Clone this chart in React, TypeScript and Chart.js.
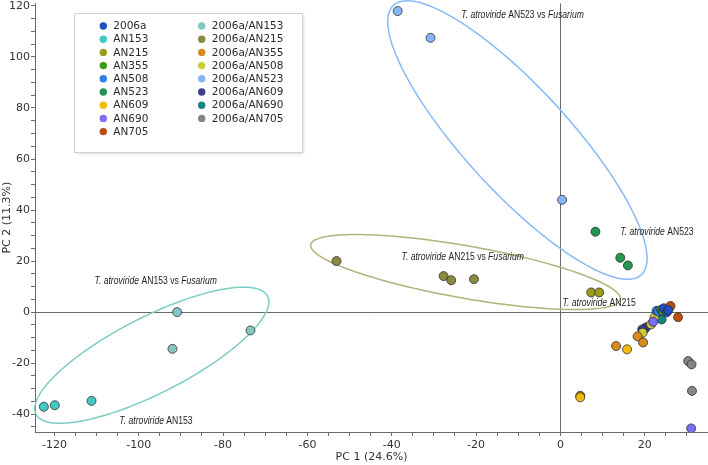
import React, { useEffect, useRef } from 'react';
import { Chart, registerables } from 'chart.js';
Chart.register(...registerables);

type P = [number, number];

const seriesLabels = [
  '2006a', 'AN153', 'AN215', 'AN355', 'AN508', 'AN523', 'AN609', 'AN690', 'AN705',
  '2006a/AN153', '2006a/AN215', '2006a/AN355', '2006a/AN508', '2006a/AN523',
  '2006a/AN609', '2006a/AN690', '2006a/AN705',
];
const seriesColors = [
  '#1f4fc0', '#44c8c4', '#9c9c1c', '#3c9c12', '#2e7ef2', '#239452', '#f0bc0c', '#7a6ef6', '#bf4e0e',
  '#86c6c2', '#8c8a42', '#d88a1e', '#cccc3c', '#86b6f6', '#3e3e8e', '#158484', '#858585',
];

const pts2006a: P[] = [[24.5, 1.5], [25.2, -0.1], [25.6, 0.8]];
const ptsAN153: P[] = [[-122.5, -37.1], [-119.9, -36.5], [-111.2, -34.8]];
const ptsAN215: P[] = [[7.3, 7.7], [9.2, 7.7]];
const ptsAN355: P[] = [[23.9, 0.9], [24.3, 0.3]];
const ptsAN508: P[] = [[22.8, 0.5], [23.2, 0.2]];
const ptsAN523: P[] = [[8.3, 31.5], [14.2, 21.3], [16.0, 18.3]];
const ptsAN609: P[] = [[15.8, -14.6], [4.7, -33.4]];
const ptsAN690: P[] = [[22.0, -3.8], [31.0, -45.6]];
const ptsAN705: P[] = [[26.1, 2.4], [27.9, -2.0]];
const pts2006aAN153: P[] = [[-90.9, 0], [-92.0, -14.4], [-73.5, -7.2]];
const pts2006aAN215: P[] = [[-53.1, 20], [-27.7, 14.1], [-25.9, 12.5], [-20.5, 12.9]];
const pts2006aAN355: P[] = [[13.2, -13.3], [18.3, -9.5], [19.6, -11.9], [4.7, -32.8]];
const pts2006aAN508: P[] = [[22.3, -2.1], [21.5, -4.8], [19.5, -8.1]];
const pts2006aAN523: P[] = [[-38.6, 118], [-30.8, 107.5], [0.4, 44]];
const pts2006aAN609: P[] = [[20.3, -6], [19.4, -6.8]];
const pts2006aAN690: P[] = [[24.0, -2.9], [19.9, -6.8]];
const pts2006aAN705: P[] = [[30.3, -19.2], [31.1, -20.5], [31.2, -30.9]];

const seriesPoints: P[][] = [
  pts2006a, ptsAN153, ptsAN215, ptsAN355, ptsAN508, ptsAN523, ptsAN609, ptsAN690, ptsAN705,
  pts2006aAN153, pts2006aAN215, pts2006aAN355, pts2006aAN508, pts2006aAN523,
  pts2006aAN609, pts2006aAN690, pts2006aAN705,
];

const X_MIN = -124.6;
const X_MAX = 35;
const Y_MIN = -47;
const Y_MAX = 121;
const xMajorTicks = [-120, -100, -80, -60, -40, -20, 0, 20];
const yMajorTicks = [-40, -20, 0, 20, 40, 60, 80, 100, 120];
const xMinorTicks = [-120, -115, -110, -105, -100, -95, -90, -85, -80, -75, -70, -65, -60, -55, -50, -45, -40, -35, -30, -25, -20, -15, -10, -5, 0, 5, 10, 15, 20, 25, 30];
const yMinorTicks = [-45, -40, -35, -30, -25, -20, -15, -10, -5, 0, 5, 10, 15, 20, 25, 30, 35, 40, 45, 50, 55, 60, 65, 70, 75, 80, 85, 90, 95, 100, 105, 110, 115, 120];

// Confidence ellipses in data units: centre, major semi-axis vector, minor semi-axis vector
const ellipseAN153 = { center: [-96.9, -16.9], major: [27.46, 23.14], minor: [4.09, -13.28], color: '#7ccdc6' };
const ellipseAN215 = { center: [-22.5, 15.7], major: [36.7, -10.7], minor: [-1.07, -10.1], color: '#b3b27a' };
const ellipseAN523 = { center: [-10.2, 67.45], major: [29.38, -52.82], minor: [-9.08, -13.8], color: '#86baf6' };
const ellipses = [ellipseAN153, ellipseAN215, ellipseAN523];

const annotations: { x: number; y: number; parts: [string, boolean][] }[] = [
  { x: -23.5, y: 116.5, parts: [['T. atroviride', true], [' AN523 vs ', false], ['Fusarium', true]] },
  { x: 14.2, y: 31.4, parts: [['T. atroviride', true], [' AN523', false]] },
  { x: -37.7, y: 21.6, parts: [['T. atroviride', true], [' AN215 vs ', false], ['Fusarium', true]] },
  { x: 0.5, y: 3.5, parts: [['T. atroviride', true], [' AN215', false]] },
  { x: -110.5, y: 12.2, parts: [['T. atroviride', true], [' AN153 vs ', false], ['Fusarium', true]] },
  { x: -104.6, y: -42.7, parts: [['T. atroviride', true], [' AN153', false]] },
];

const AXIS_FONT = 'DejaVu Sans';

const decorPlugin = {
  id: 'decor',
  beforeDatasetsDraw(chart: any) {
    const { ctx, chartArea, scales } = chart;
    const xs = scales.x, ys = scales.y;
    ctx.save();
    ctx.strokeStyle = '#6a6a6a';
    ctx.lineWidth = 1;
    const y0 = Math.round(ys.getPixelForValue(0)) + 0.5;
    const x0 = Math.round(xs.getPixelForValue(0)) + 0.5;
    ctx.beginPath();
    ctx.moveTo(chartArea.left, y0);
    ctx.lineTo(chartArea.right, y0);
    ctx.moveTo(x0, chartArea.top);
    ctx.lineTo(x0, chartArea.bottom);
    ctx.stroke();
    for (const e of ellipses) {
      ctx.beginPath();
      for (let i = 0; i <= 180; i++) {
        const t = (i / 180) * Math.PI * 2;
        const dx = e.center[0] + e.major[0] * Math.cos(t) + e.minor[0] * Math.sin(t);
        const dy = e.center[1] + e.major[1] * Math.cos(t) + e.minor[1] * Math.sin(t);
        const px = xs.getPixelForValue(dx);
        const py = ys.getPixelForValue(dy);
        if (i === 0) ctx.moveTo(px, py); else ctx.lineTo(px, py);
      }
      ctx.closePath();
      ctx.strokeStyle = e.color;
      ctx.lineWidth = 1.5;
      ctx.stroke();
    }
    ctx.fillStyle = '#1e1e1e';
    ctx.textBaseline = 'middle';
    ctx.textAlign = 'left';
    for (const a of annotations) {
      const px = xs.getPixelForValue(a.x);
      const py = ys.getPixelForValue(a.y);
      ctx.save();
      ctx.translate(px, py);
      ctx.scale(0.86, 1);
      let cx = 0;
      for (const [txt, it] of a.parts) {
        ctx.font = `${it ? 'italic ' : ''}10px "Liberation Sans", Arial, sans-serif`;
        ctx.fillText(txt, cx, 0);
        cx += ctx.measureText(txt).width;
      }
      ctx.restore();
    }
    ctx.restore();
  },
  afterDatasetsDraw(chart: any) {
    const { ctx } = chart;
    ctx.save();
    const bx = 74.5, by = 13.5, bw = 228, bh = 139;
    ctx.shadowColor = 'rgba(0,0,0,0.18)';
    ctx.shadowBlur = 3;
    ctx.shadowOffsetX = 1;
    ctx.shadowOffsetY = 1;
    ctx.fillStyle = '#ffffff';
    ctx.fillRect(bx, by, bw, bh);
    ctx.shadowColor = 'transparent';
    ctx.strokeStyle = '#d2d2d2';
    ctx.lineWidth = 1;
    ctx.strokeRect(bx, by, bw, bh);
    ctx.font = `10.5px "${AXIS_FONT}"`;
    ctx.textBaseline = 'middle';
    ctx.textAlign = 'left';
    chart.data.datasets.forEach((ds: any, i: number) => {
      const col = i < 9 ? 0 : 1;
      const row = i < 9 ? i : i - 9;
      const dotX = col === 0 ? 103.3 : 201.7;
      const textX = col === 0 ? 113.3 : 211.7;
      const y = 26 + row * 13.2;
      ctx.beginPath();
      ctx.arc(dotX, y, 3.7, 0, Math.PI * 2);
      ctx.fillStyle = ds.backgroundColor;
      ctx.fill();
      ctx.fillStyle = '#2a2a2a';
      ctx.fillText(ds.label, textX, y + 0.5);
    });
    ctx.restore();
  },
};

export default function App() {
  const ref = useRef<HTMLCanvasElement | null>(null);
  useEffect(() => {
    if (!ref.current) return;
    const datasets = seriesLabels.map((label, i) => ({
      label,
      data: seriesPoints[i].map(([x, y]) => ({ x, y })),
      backgroundColor: seriesColors[i],
      borderColor: 'rgba(40,40,40,0.75)',
      borderWidth: 1,
      pointRadius: 4.5,
      pointHoverRadius: 4.5,
    }));
    const tickFont = { family: AXIS_FONT, size: 11 };
    const chart = new Chart(ref.current, {
      type: 'scatter',
      data: { datasets },
      plugins: [decorPlugin],
      options: {
        responsive: false,
        animation: false,
        events: [],
        layout: { autoPadding: false, padding: { top: 3.4, left: 0, right: 0, bottom: 0 } },
        plugins: { legend: { display: false }, tooltip: { enabled: false } },
        scales: {
          x: {
            type: 'linear',
            min: X_MIN,
            max: X_MAX,
            afterBuildTicks: (s: any) => { s.ticks = xMinorTicks.map((v) => ({ value: v })); },
            afterFit: (s: any) => { s.height = 33; s.paddingLeft = 0; s.paddingRight = 0; },
            ticks: {
              autoSkip: false,
              maxRotation: 0,
              padding: 3,
              color: '#333',
              font: tickFont,
              callback: (v: any) => (xMajorTicks.includes(Number(v)) ? String(v) : ''),
            },
            grid: { drawOnChartArea: false, drawTicks: true, tickLength: 4, tickColor: '#6a6a6a' },
            border: { display: true, color: '#6a6a6a' },
            title: { display: true, text: 'PC 1 (24.6%)', color: '#333', font: tickFont, padding: { top: 0, bottom: 1 } },
          },
          y: {
            type: 'linear',
            min: Y_MIN,
            max: Y_MAX,
            afterBuildTicks: (s: any) => { s.ticks = yMinorTicks.map((v) => ({ value: v })); },
            afterFit: (s: any) => { s.width = 35; s.paddingTop = 0; s.paddingBottom = 0; },
            ticks: {
              autoSkip: false,
              padding: 1,
              color: '#333',
              font: tickFont,
              callback: (v: any) => (yMajorTicks.includes(Number(v)) ? String(v) : ''),
            },
            grid: { drawOnChartArea: false, drawTicks: true, tickLength: 4, tickColor: '#6a6a6a' },
            border: { display: true, color: '#6a6a6a' },
            title: { display: true, text: 'PC 2 (11.3%)', color: '#333', font: tickFont, padding: { top: 1, bottom: 0 } },
          },
        },
      } as any,
    });
    return () => chart.destroy();
  }, []);
  return (
    <div style={{ position: 'fixed', left: 0, top: 0, width: 708, height: 465, background: '#fff' }}>
      <canvas ref={ref} width={708} height={465} style={{ width: 708, height: 465, display: 'block' }} />
    </div>
  );
}
